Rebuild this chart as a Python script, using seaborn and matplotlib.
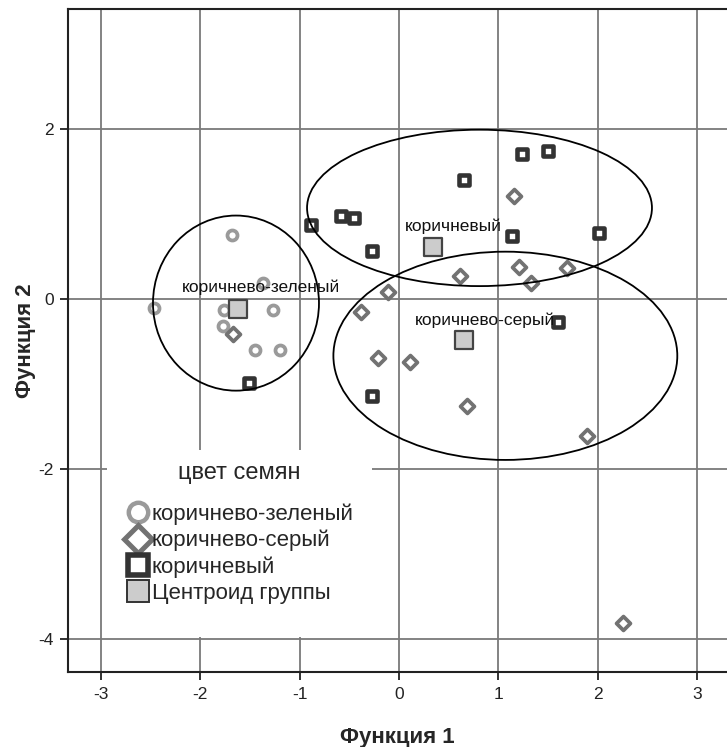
import numpy as np
import pandas as pd
import matplotlib
matplotlib.use("Agg")
import matplotlib.pyplot as plt
from matplotlib.patches import Ellipse, Rectangle
from matplotlib.lines import Line2D
import seaborn as sns

# Discriminant scores (Функция 1, Функция 2) per seed-colour group
green_x = [-1.68, -1.37, -2.46, -1.76, -1.27, -1.77, -1.45, -1.20]
green_y = [0.75, 0.19, -0.11, -0.13, -0.13, -0.32, -0.60, -0.60]

gray_x = [-1.67, 1.16, 0.61, 1.21, 1.69, 1.33, -0.11, -0.38, -0.21, 0.11, 0.68, 1.89, 2.25]
gray_y = [-0.41, 1.21, 0.27, 0.37, 0.36, 0.19, 0.08, -0.15, -0.70, -0.74, -1.26, -1.61, -3.81]

brown_x = [-0.89, -0.58, -0.45, -0.27, 0.65, 1.24, 1.50, 1.14, 2.01, 1.60, -0.27, -1.51]
brown_y = [0.87, 0.98, 0.95, 0.56, 1.40, 1.71, 1.74, 0.74, 0.78, -0.27, -1.14, -0.99]

groups = ["коричнево-зеленый", "коричнево-серый", "коричневый"]
centroid_x = [-1.62, 0.65, 0.34]
centroid_y = [-0.12, -0.48, 0.61]

# Group ellipses: centre x, centre y, width, height
ell_cx = [-1.64, 1.07, 0.81]
ell_cy = [-0.05, -0.67, 1.07]
ell_w = [1.67, 3.46, 3.47]
ell_h = [2.06, 2.45, 1.84]

# Positions of the group name labels
label_x = [-1.39, 0.87, 0.55]
label_y = [0.14, -0.25, 0.85]

x_ticks = [-3, -2, -1, 0, 1, 2, 3]
y_ticks = [-4, -2, 0, 2]

df = pd.DataFrame({
    "f1": green_x + gray_x + brown_x,
    "f2": green_y + gray_y + brown_y,
    "group": [groups[0]] * len(green_x) + [groups[1]] * len(gray_x) + [groups[2]] * len(brown_x),
})
cent = pd.DataFrame({"f1": centroid_x, "f2": centroid_y, "group": groups})

sns.set_style("white")
plt.rcParams["font.family"] = ["Liberation Sans", "DejaVu Sans"]
plt.rcParams["axes.unicode_minus"] = False

W, H = 727, 747
fig = plt.figure(figsize=(W / 100, H / 100), dpi=100)
ax_l, ax_b, ax_t = 68, 672, 9
ax = fig.add_axes([ax_l / W, (H - ax_b) / H, 1 - ax_l / W, (ax_b - ax_t) / H])

grid_col = "#7a7a7a"
for t in x_ticks:
    ax.axvline(t, color=grid_col, lw=1.3, zorder=0)
for t in y_ticks:
    ax.axhline(t, color=grid_col, lw=1.3, zorder=0)

styles = {
    groups[0]: dict(marker="o", s=52, edgecolor="#9a9a9a", linewidth=2.7),
    groups[1]: dict(marker="D", s=50, edgecolor="#727272", linewidth=2.7),
    groups[2]: dict(marker="s", s=62, edgecolor="#333333", linewidth=3.3),
}
for g in groups:
    sns.scatterplot(data=df[df["group"] == g], x="f1", y="f2", color="white",
                    ax=ax, legend=False, zorder=3, **styles[g])

sns.scatterplot(data=cent, x="f1", y="f2", marker="s", s=150, color="#cccccc",
                edgecolor="#444444", linewidth=1.6, ax=ax, legend=False, zorder=4)

for cx, cy, w, h in zip(ell_cx, ell_cy, ell_w, ell_h):
    ax.add_patch(Ellipse((cx, cy), w, h, fill=False, edgecolor="black", lw=1.3, zorder=5))

for g, lx, ly in zip(groups, label_x, label_y):
    ax.text(lx, ly, g, fontsize=12.5, ha="center", va="center", color="#111111", zorder=6)

ax.set_xlim(-3.33, 3.30)
ax.set_ylim(-4.39, 3.41)
ax.set_xticks(x_ticks)
ax.set_yticks(y_ticks)
ax.tick_params(axis="both", direction="out", length=6, width=1.3, labelsize=12.5,
               color="#222222", labelcolor="#222222", bottom=True, left=True)
ax.tick_params(axis="x", pad=5)
ax.tick_params(axis="y", pad=4)
for side in ["left", "bottom", "top"]:
    ax.spines[side].set_color("#222222")
    ax.spines[side].set_linewidth(1.5)
ax.spines["right"].set_visible(False)

ax.set_xlabel("Функция 1", fontsize=16, fontweight="bold", labelpad=18)
ax.set_ylabel("Функция 2", fontsize=16, fontweight="bold", labelpad=2)

# White panel behind the legend, hiding the grid underneath
def px_to_axes(px, py):
    return (px - ax_l) / (W - ax_l), (ax_b - py) / (ax_b - ax_t)

bx0, by0 = px_to_axes(107, 637)
bx1, by1 = px_to_axes(372, 450)
ax.add_patch(Rectangle((bx0, by0), bx1 - bx0, by1 - by0, transform=ax.transAxes,
                       facecolor="white", edgecolor="none", zorder=6))

handles = [
    Line2D([], [], ls="", marker="o", ms=14, mfc="white", mec="#9a9a9a", mew=3.2),
    Line2D([], [], ls="", marker="D", ms=14, mfc="white", mec="#727272", mew=3.6),
    Line2D([], [], ls="", marker="s", ms=14, mfc="white", mec="#333333", mew=4.0),
    Line2D([], [], ls="", marker="s", ms=15.5, mfc="#cccccc", mec="#333333", mew=1.4),
]
labels = groups + ["Центроид группы"]
lx0, ly0 = px_to_axes(116, 453)
leg = ax.legend(handles, labels, title="цвет семян", loc="upper left",
                bbox_to_anchor=(lx0, ly0), fontsize=16, title_fontsize=17,
                frameon=False, handletextpad=0.05, labelspacing=0.23, borderpad=0.4,
                handlelength=1.15, borderaxespad=0)
leg._legend_box.sep = 14
leg.set_zorder(7)

fig.savefig("out.png", dpi=100)
